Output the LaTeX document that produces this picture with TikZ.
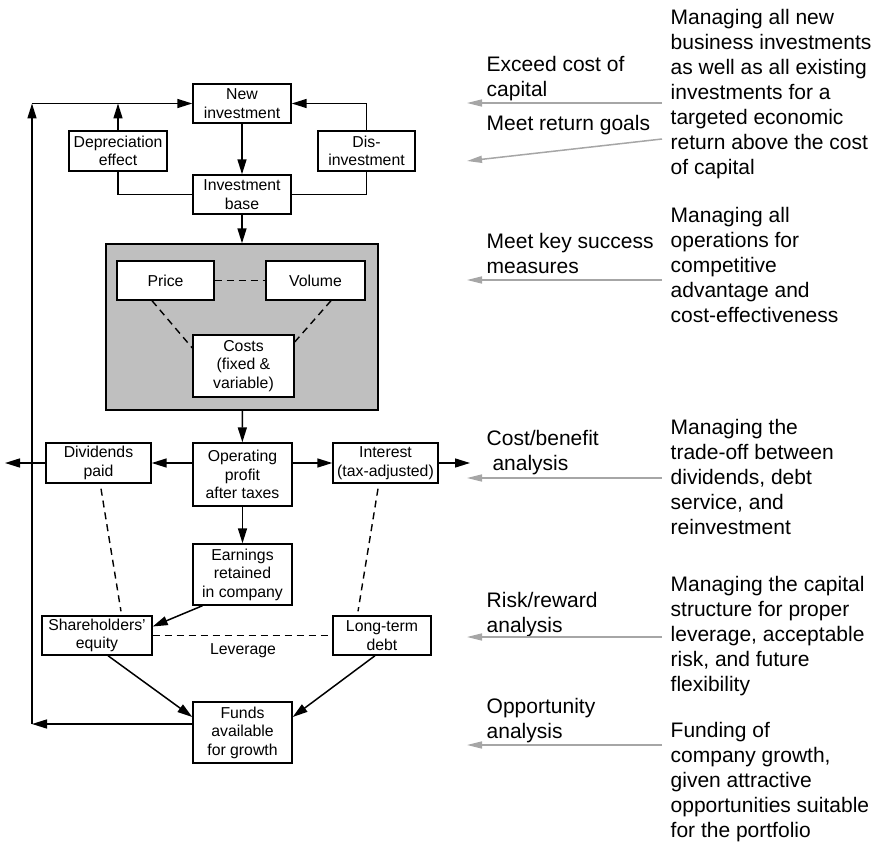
\documentclass[tikz,border=0pt]{standalone}
\usepackage{fontspec}
\setmainfont{Liberation Sans}
\usetikzlibrary{arrows.meta,shadows}
\begin{document}
\begin{tikzpicture}[x=1pt,y=-1pt,
  box/.style={draw, fill=white, line width=1.4pt, align=center, inner sep=0pt,
    font=\fontsize{15.8}{18.5}\selectfont,
    drop shadow={shadow xshift=1.2pt, shadow yshift=-1.2pt, fill=black, opacity=1}},
  arr/.style={line width=1.5pt, -{Triangle[length=15pt,width=9pt]}},
  ln/.style={line width=1.5pt},
  dsh/.style={line width=1.4pt, dash pattern=on 7pt off 5pt},
  garr/.style={draw=black!35, line width=1.5pt, -{Triangle[length=15pt,width=7pt,fill=black!35]}},
  lbl/.style={anchor=north west, align=left, inner sep=0pt, font=\fontsize{21}{25}\selectfont},
  small/.style={inner sep=0pt, font=\fontsize{15.8}{18.5}\selectfont}]
\useasboundingbox (0,0) rectangle (879,843);

% top investment loop
\node[box, minimum width=98pt, minimum height=39pt] (newinv) at (242,103.5) {New\\investment};
\node[box, minimum width=98pt, minimum height=40pt] (dep) at (118,151) {Depreciation\\effect};
\node[box, minimum width=97pt, minimum height=40pt] (dis) at (366.5,151) {Dis-\\investment};
\node[box, minimum width=98pt, minimum height=39pt] (invbase) at (242,194.5) {Investment\\base};

% operations box
\node[box, fill=black!25, minimum width=272pt, minimum height=166pt] (ops) at (242,327) {};
\node[box, minimum width=97pt, minimum height=39pt] (price) at (165.5,280.5) {Price};
\node[box, minimum width=99pt, minimum height=39pt] (vol) at (315.5,280.5) {Volume};
\node[box, minimum width=101pt, minimum height=62pt] (costs) at (243.5,366) {Costs\\(fixed \&\\variable)};

% profit and below
\node[box, minimum width=99pt, minimum height=63pt] (op) at (242.5,474.5) {Operating\\profit\\after taxes};
\node[box, minimum width=105pt, minimum height=40pt] (div) at (98.5,463) {Dividends\\paid};
\node[box, minimum width=105pt, minimum height=40pt] (int) at (385.5,463) {Interest\\(tax-adjusted)};
\node[box, minimum width=99pt, minimum height=61pt] (earn) at (242.5,574.5) {Earnings\\retained\\in company};
\node[box, minimum width=110pt, minimum height=39pt] (sh) at (97,635.5) {Shareholders'\\equity};
\node[box, minimum width=98pt, minimum height=39pt] (ltd) at (382,635.5) {Long-term\\debt};
\node[box, minimum width=99pt, minimum height=61pt] (funds) at (242.5,732.5) {Funds\\available\\for growth};
\node[small] (lev) at (243,651) {Leverage};

\coordinate (L1) at (32,724);
\coordinate (L2) at (32,103.5);
\coordinate (lout) at (5,463);
\coordinate (rout) at (470,463);

% connectors
\draw[arr] ([yshift=8.5pt]funds.west) -- (L1);
\draw[arr] (L1) -- (L2);
\draw[arr] (L2) -- (newinv.west);
\draw[arr] (dep.north) -- (dep.north |- L2);
\draw[arr] (dis.north) |- (newinv.east);
\draw[ln] (dep.south) |- (invbase.west);
\draw[ln] (dis.south) |- (invbase.east);
\draw[arr] (newinv) -- (invbase);
\draw[arr] (invbase) -- (ops);
\draw[arr] (ops) -- (op);
\draw[dsh] (price) -- (vol);
\draw[dsh] ([xshift=-13.5pt]price.south) -- ([yshift=18pt]costs.west);
\draw[dsh] ([xshift=15.5pt]vol.south) -- ([yshift=24pt]costs.east);
\draw[arr] (op.west |- div.east) -- (div.east);
\draw[arr] (op.east |- int.west) -- (int.west);
\draw[arr] (div.west) -- (lout);
\draw[arr] (int.east) -- (rout);
\draw[arr] (op) -- (earn);
\draw[arr] ([xshift=-40pt]earn.south) -- ([yshift=9pt]sh.east);
\draw[dsh] (sh.east) -- (ltd.west);
\draw[dsh] ([xshift=2.5pt,yshift=-5pt]div.south) -- ([xshift=24pt,yshift=4pt]sh.north);
\draw[dsh] ([xshift=-7.5pt,yshift=-5pt]int.south) -- ([xshift=-24pt,yshift=4pt]ltd.north);
\draw[arr] ([xshift=11pt]sh.south) -- ([yshift=15.5pt]funds.west);
\draw[arr] ([xshift=-7pt]ltd.south) -- ([yshift=15.5pt]funds.east);

% right-hand labels
\node[lbl] (t1) at (486.5,56) {Exceed cost of\\capital};
\node[lbl] (t2) at (486.5,115) {Meet return goals};
\node[lbl] (t3) at (486.5,233) {Meet key success\\measures};
\node[lbl] (t4) at (486.5,430) {Cost/benefit\\\ analysis};
\node[lbl] (t5) at (486.5,592) {Risk/reward\\analysis};
\node[lbl] (t6) at (486.5,698) {Opportunity\\analysis};

\node[lbl] (d1) at (670.5,9) {Managing all new\\business investments\\as well as all existing\\investments for a\\targeted economic\\return above the cost\\of capital};
\node[lbl] (d2) at (670.5,207) {Managing all\\operations for\\competitive\\advantage and\\cost-effectiveness};
\node[lbl] (d3) at (670.5,419.5) {Managing the\\trade-off between\\dividends, debt\\service, and\\reinvestment};
\node[lbl] (d4) at (670.5,576) {Managing the capital\\structure for proper\\leverage, acceptable\\risk, and future\\flexibility};
\node[lbl] (d5) at (670.5,722) {Funding of\\company growth,\\given attractive\\opportunities suitable\\for the portfolio};

% gray arrows
\coordinate (g1s) at (662,103);  \coordinate (g1e) at (467,103);
\coordinate (g2s) at (662,139);  \coordinate (g2e) at (467,161);
\coordinate (g3s) at (662,280);  \coordinate (g3e) at (467,280);
\coordinate (g4s) at (662,478);  \coordinate (g4e) at (467,478);
\coordinate (g5s) at (662,637);  \coordinate (g5e) at (467,637);
\coordinate (g6s) at (662,745);  \coordinate (g6e) at (467,745);
\draw[garr] (g1s) -- (g1e);
\draw[garr] (g2s) -- (g2e);
\draw[garr] (g3s) -- (g3e);
\draw[garr] (g4s) -- (g4e);
\draw[garr] (g5s) -- (g5e);
\draw[garr] (g6s) -- (g6e);
\end{tikzpicture}
\end{document}
